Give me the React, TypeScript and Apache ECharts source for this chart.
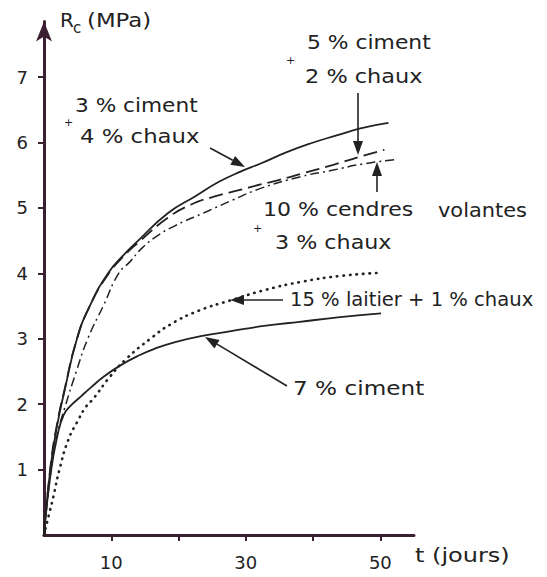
import React, { useEffect, useRef } from "react";
import * as echarts from "echarts";

// ---- data (t in days, Rc in MPa) ----
const tCim3Ch4 = [0, 1, 2, 3, 4.9, 6.8, 9.5, 12, 14, 18.4, 22.5, 26, 29.3, 32.2, 36, 39.7, 43.5, 47.2, 51.2];
const rCim3Ch4 = [0, 1.05, 1.7, 2.18, 3.0, 3.5, 4.0, 4.3, 4.5, 4.92, 5.18, 5.4, 5.56, 5.68, 5.85, 5.99, 6.11, 6.22, 6.3];

const tCim5Ch2 = [0, 1, 2, 3, 4.9, 6.8, 9.5, 12, 14, 18.4, 21.8, 25.5, 29.3, 32.2, 35, 38.5, 43, 47.2, 50.6];
const rCim5Ch2 = [0, 1.08, 1.73, 2.2, 3.0, 3.5, 3.98, 4.28, 4.47, 4.85, 5.05, 5.18, 5.28, 5.36, 5.43, 5.53, 5.66, 5.79, 5.89];

const tCendres = [0, 1, 2, 3.1, 4.8, 6.5, 8.8, 11.1, 12.8, 14.3, 16.5, 19.3, 24.3, 28, 32.2, 38.2, 43, 47.2, 52.1];
const rCendres = [0, 0.95, 1.55, 1.95, 2.5, 3.0, 3.5, 4.0, 4.18, 4.36, 4.55, 4.72, 4.95, 5.12, 5.3, 5.48, 5.58, 5.67, 5.74];

const tLaitier = [0, 0.9, 1.4, 2.3, 3.6, 5.1, 6.3, 7.3, 9.8, 12.3, 15.8, 18.8, 23, 27.8, 33, 38.2, 44, 50.1];
const rLaitier = [0, 0.38, 0.59, 1.0, 1.45, 1.76, 1.97, 2.08, 2.42, 2.7, 3.0, 3.22, 3.43, 3.59, 3.75, 3.87, 3.96, 4.01];

const tCim7 = [0, 1, 2, 2.9, 3.9, 5.5, 6.9, 9, 11.3, 14, 16.5, 19.5, 23.3, 28, 33, 38, 44, 50.1];
const rCim7 = [0, 0.95, 1.52, 1.83, 1.97, 2.12, 2.25, 2.43, 2.59, 2.74, 2.85, 2.95, 3.04, 3.12, 3.2, 3.26, 3.33, 3.39];

const xTicks = [10, 20, 30, 40, 50];
const xLabels = [10, 30, 50];
const yTicks = [1, 2, 3, 4, 5, 6, 7];

const pairs = (t: number[], r: number[]) => t.map((v, i) => [v, r[i]]);

const INK = "#222";
const AXIS = "#3a2030";
const FONT = "DejaVu Sans";

function arrow(x1: number, y1: number, x2: number, y2: number) {
  const dx = x2 - x1;
  const dy = y2 - y1;
  const len = Math.sqrt(dx * dx + dy * dy);
  const ux = dx / len;
  const uy = dy / len;
  const hl = 14;
  const hw = 5;
  const bx = x2 - ux * hl;
  const by = y2 - uy * hl;
  return {
    type: "group",
    children: [
      {
        type: "line",
        shape: { x1, y1, x2: bx, y2: by },
        style: { stroke: INK, lineWidth: 1.6 },
      },
      {
        type: "polygon",
        shape: {
          points: [
            [x2, y2],
            [bx - uy * hw, by + ux * hw],
            [bx + uy * hw, by - ux * hw],
          ],
        },
        style: { fill: INK },
      },
    ],
  };
}

function txt(text: string, x: number, y: number, size = 19, sx = 1) {
  return {
    type: "text",
    x,
    y,
    scaleX: sx,
    style: {
      text,
      font: `${size}px "${FONT}"`,
      fill: INK,
      textAlign: "left",
      textVerticalAlign: "middle",
    },
  };
}

export default function App() {
  const ref = useRef<HTMLDivElement>(null);

  useEffect(() => {
    if (!ref.current) return;
    const chart = echarts.init(ref.current, undefined, { renderer: "svg" });
    const line = (name: string, t: number[], r: number[], lineStyle: any) => ({
      name,
      type: "line",
      data: pairs(t, r),
      showSymbol: false,
      smooth: 0.5,
      lineStyle: { color: INK, width: 1.8, ...lineStyle },
      silent: true,
    });

    chart.setOption({
      animation: false,
      backgroundColor: "#ffffff",
      grid: {
        left: 44,
        right: 133,
        top: 21.6,
        bottom: 42,
        containLabel: false,
        outerBoundsMode: "none",
      },
      xAxis: {
        type: "value",
        min: 0,
        max: 55,
        interval: 10,
        splitLine: { show: false },
        axisLine: {
          show: true,
          onZero: false,
          lineStyle: { color: AXIS, width: 3 },
        },
        axisTick: {
          show: true,
          customValues: xTicks,
          length: 6,
          lineStyle: { color: AXIS, width: 2 },
        },
        axisLabel: {
          customValues: xLabels,
          formatter: (v: number) => (xLabels.includes(v) ? String(v) : ""),
          fontSize: 18,
          fontFamily: FONT,
          color: INK,
          margin: 18,
        },
      },
      yAxis: {
        type: "value",
        min: 0,
        max: 7.85,
        interval: 1,
        splitLine: { show: false },
        axisLine: {
          show: true,
          onZero: false,
          symbol: ["none", "arrow"],
          symbolSize: [12, 20],
          lineStyle: { color: AXIS, width: 3 },
        },
        axisTick: {
          show: true,
          customValues: yTicks,
          length: 6,
          lineStyle: { color: AXIS, width: 2 },
        },
        axisLabel: {
          customValues: yTicks,
          formatter: (v: number) => (yTicks.includes(v) ? String(v) : ""),
          fontSize: 18,
          fontFamily: FONT,
          color: INK,
          margin: 16,
        },
      },
      series: [
        line("3 % ciment + 4 % chaux", tCim3Ch4, rCim3Ch4, { type: "solid" }),
        line("5 % ciment + 2 % chaux", tCim5Ch2, rCim5Ch2, { type: [14, 6] }),
        line("10 % cendres volantes + 3 % chaux", tCendres, rCendres, {
          type: [9, 4, 2, 4],
          width: 1.5,
        }),
        line("15 % laitier + 1 % chaux", tLaitier, rLaitier, {
          type: [0.5, 6],
          width: 2.6,
          cap: "round",
        }),
        line("7 % ciment", tCim7, rCim7, { type: "solid" }),
      ],
      graphic: [
        // axis titles
        txt("R", 60, 20, 20),
        txt("c", 73, 28, 15),
        txt("(MPa)", 87, 20, 20, 1.14),
        txt("t (jours)", 415, 555, 20, 1.2),
        // annotations
        txt("3 % ciment", 75, 105, 19, 1.14),
        txt("+", 64, 122, 11),
        txt("4 % chaux", 80, 137, 19, 1.2),
        arrow(210, 148, 245, 167),
        txt("5 % ciment", 307, 43, 19, 1.15),
        txt("+", 286, 60, 11),
        txt("2 % chaux", 305, 77, 19, 1.18),
        arrow(358, 93, 358, 155),
        arrow(377, 192, 377, 162),
        txt("10 % cendres", 263, 210, 19, 1.16),
        txt("volantes", 438, 210, 19, 1.1),
        txt("+", 253, 228, 11),
        txt("3 % chaux", 275, 243, 19, 1.17),
        txt("15 % laitier + 1 % chaux", 290, 300, 19, 1.03),
        arrow(283, 300, 230, 300),
        txt("7 % ciment", 293, 388, 19, 1.22),
        arrow(287, 386, 205, 337),
      ],
    });
    return () => chart.dispose();
  }, []);

  return <div ref={ref} style={{ width: 547, height: 577, marginLeft: -8, marginTop: -8 }} />;
}
